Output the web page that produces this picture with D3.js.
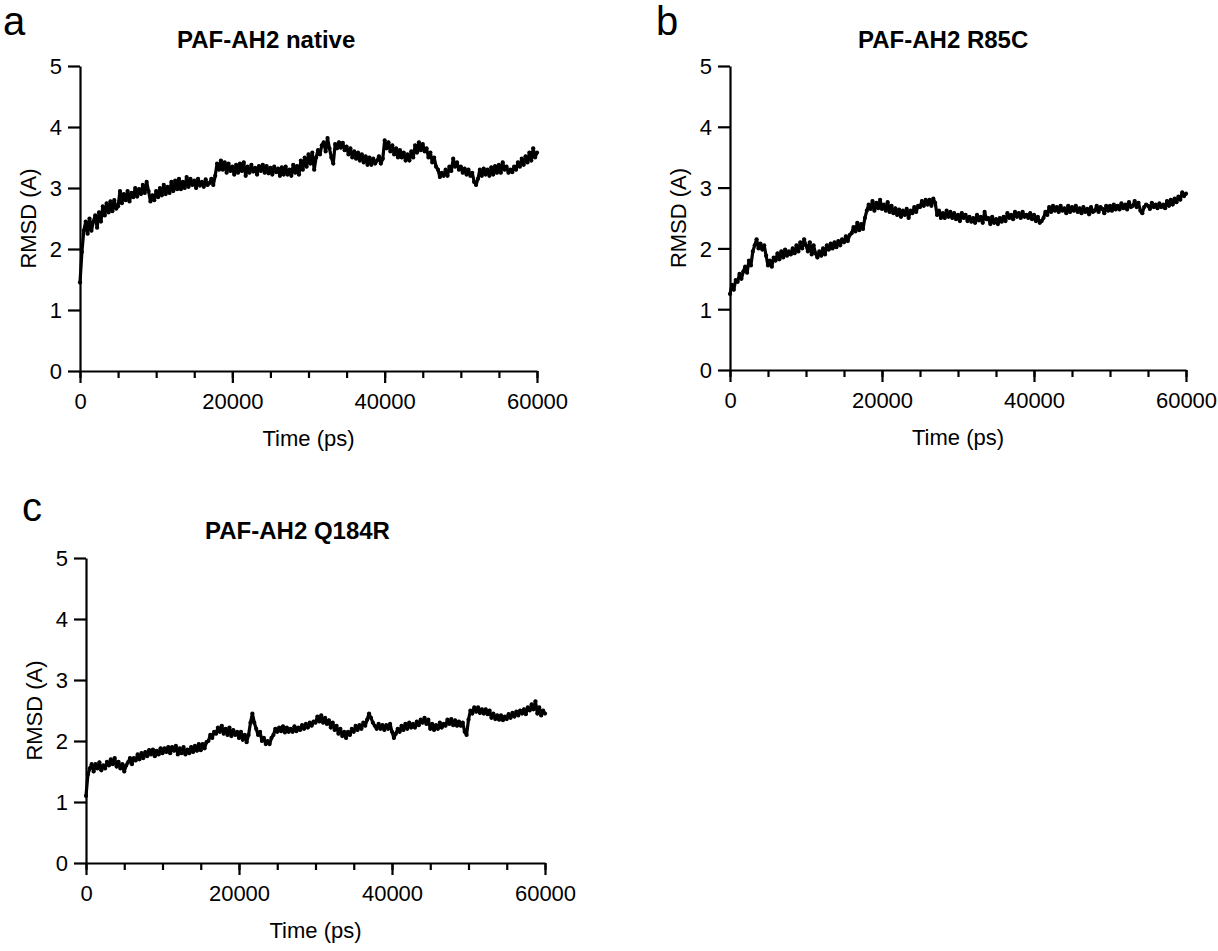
<!DOCTYPE html>
<html>
<head>
<meta charset="utf-8">
<script src="https://cdn.jsdelivr.net/npm/d3@7/dist/d3.min.js"></script>
<style>
  body { margin: 0; background: #fff; }
  svg text { font-family: "Liberation Sans", Arial, sans-serif; fill: #000; }
</style>
</head>
<body>
<script>
// time axis: one sample every 250 ps
var step_ps = 250;
var time_ps = d3.range(0, 60001, step_ps);

// RMSD values (A)
var rmsd_native = [
  1.45, 1.95, 2.3, 2.45, 2.25, 2.5, 2.3, 2.45, 2.55, 2.35, 2.6, 2.45,
  2.7, 2.55, 2.75, 2.6, 2.78, 2.62, 2.8, 2.66, 2.7, 2.95, 2.75, 2.9,
  2.8, 2.95, 2.78, 2.92, 2.85, 3.0, 2.86, 2.98, 2.9, 3.05, 2.92, 3.1,
  2.95, 2.78, 2.88, 2.8, 2.95, 2.85, 3.0, 2.88, 3.05, 2.9, 3.02, 2.92,
  3.1, 2.95, 3.12, 2.98, 3.15, 2.98, 3.1, 3.0, 3.18, 3.02, 3.15, 3.05,
  3.12, 3.0, 3.15, 3.04, 3.1, 3.02, 3.14, 3.05, 3.08, 3.15, 3.05, 3.2,
  3.4, 3.3, 3.45, 3.3, 3.42, 3.25, 3.4, 3.28, 3.35, 3.22, 3.38, 3.25,
  3.4, 3.28, 3.42, 3.2, 3.35, 3.25, 3.38, 3.27, 3.33, 3.22, 3.36, 3.28,
  3.38, 3.25, 3.36, 3.24, 3.33, 3.22, 3.35, 3.26, 3.32, 3.2, 3.34, 3.22,
  3.35, 3.22, 3.3, 3.2, 3.38, 3.25, 3.36, 3.22, 3.45, 3.3, 3.5, 3.35,
  3.55, 3.4, 3.58, 3.3, 3.5, 3.62, 3.55, 3.7, 3.75, 3.6, 3.82, 3.65,
  3.5, 3.4, 3.72, 3.65, 3.75, 3.66, 3.74, 3.62, 3.68, 3.55, 3.65, 3.5,
  3.6, 3.48, 3.58, 3.45, 3.55, 3.42, 3.52, 3.38, 3.5, 3.38, 3.48, 3.4,
  3.45, 3.52, 3.4, 3.48, 3.78, 3.65, 3.75, 3.6, 3.7, 3.55, 3.65, 3.5,
  3.62, 3.5, 3.58, 3.45, 3.55, 3.45, 3.6, 3.5, 3.7, 3.58, 3.75, 3.62,
  3.72, 3.6, 3.65, 3.5, 3.58, 3.42, 3.5, 3.35, 3.3, 3.18, 3.25, 3.2,
  3.3, 3.2, 3.35, 3.28, 3.48, 3.35, 3.42, 3.3, 3.35, 3.25, 3.32, 3.22,
  3.3, 3.2, 3.25, 3.1, 3.05, 3.15, 3.3, 3.2, 3.32, 3.22, 3.3, 3.2,
  3.34, 3.22, 3.36, 3.25, 3.38, 3.25, 3.42, 3.3, 3.35, 3.25, 3.3, 3.26,
  3.35, 3.3, 3.42, 3.35, 3.48, 3.38, 3.52, 3.42, 3.58, 3.45, 3.65, 3.5,
  3.58
];

var rmsd_r85c = [
  1.25, 1.4, 1.32, 1.48, 1.45, 1.58, 1.5, 1.62, 1.7, 1.6, 1.8, 1.72,
  1.95, 2.05, 2.15, 2.0, 2.08, 1.98, 2.05, 1.88, 1.72, 1.8, 1.7, 1.85,
  1.8, 1.92, 1.82, 1.95, 1.85, 1.98, 1.88, 1.95, 1.9, 2.0, 1.92, 2.05,
  1.95, 2.1, 2.0, 2.15, 2.05, 1.95, 2.1, 1.9, 2.05, 1.92, 1.85, 1.95,
  1.88, 2.0, 1.9, 2.05, 1.98, 2.08, 2.0, 2.1, 2.02, 2.12, 2.05, 2.15,
  2.1, 2.2, 2.12, 2.22, 2.25, 2.35, 2.28, 2.42, 2.3, 2.4, 2.32, 2.5,
  2.62, 2.72, 2.65, 2.78, 2.62, 2.75, 2.66, 2.8, 2.65, 2.72, 2.62, 2.76,
  2.6, 2.7, 2.58, 2.66, 2.55, 2.64, 2.52, 2.62, 2.55, 2.65, 2.5, 2.62,
  2.58, 2.68, 2.6, 2.7, 2.68, 2.78, 2.7, 2.8, 2.72, 2.8, 2.7, 2.82,
  2.75, 2.55, 2.62, 2.5, 2.58, 2.5, 2.62, 2.52, 2.6, 2.5, 2.58, 2.48,
  2.55, 2.45, 2.58, 2.5, 2.55, 2.45, 2.52, 2.44, 2.5, 2.42, 2.55, 2.46,
  2.52, 2.42, 2.6, 2.48, 2.5, 2.4, 2.52, 2.42, 2.48, 2.4, 2.5, 2.44,
  2.52, 2.45, 2.58, 2.5, 2.55, 2.48, 2.6, 2.52, 2.58, 2.5, 2.6, 2.52,
  2.55, 2.5, 2.58, 2.48, 2.55, 2.45, 2.52, 2.42, 2.45, 2.5, 2.6, 2.55,
  2.68, 2.6, 2.7, 2.62, 2.68, 2.6, 2.7, 2.62, 2.66, 2.58, 2.7, 2.6,
  2.68, 2.62, 2.7, 2.6, 2.66, 2.58, 2.68, 2.6, 2.65, 2.56, 2.68, 2.6,
  2.62, 2.7, 2.6, 2.68, 2.65, 2.58, 2.7, 2.62, 2.7, 2.62, 2.72, 2.64,
  2.7, 2.64, 2.74, 2.66, 2.72, 2.64, 2.76, 2.68, 2.7, 2.78, 2.68, 2.75,
  2.62, 2.58, 2.68, 2.72, 2.7, 2.65, 2.75, 2.68, 2.72, 2.66, 2.74, 2.68,
  2.72, 2.66, 2.78, 2.7, 2.8, 2.72, 2.82, 2.76, 2.85, 2.8, 2.92, 2.86,
  2.9
];

var rmsd_q184r = [
  1.1, 1.45, 1.55, 1.62, 1.5, 1.62, 1.55, 1.65, 1.52, 1.6, 1.55, 1.66,
  1.6, 1.7, 1.62, 1.72, 1.58, 1.66, 1.55, 1.62, 1.5, 1.6, 1.65, 1.72,
  1.62, 1.72, 1.68, 1.78, 1.7, 1.8, 1.72, 1.82, 1.75, 1.85, 1.78, 1.86,
  1.75, 1.84, 1.78, 1.88, 1.8, 1.88, 1.82, 1.9, 1.8, 1.9, 1.84, 1.92,
  1.78, 1.88, 1.8, 1.9, 1.78, 1.86, 1.8, 1.9, 1.82, 1.92, 1.84, 1.95,
  1.85, 1.95, 1.88, 1.98, 2.0, 2.1, 2.05, 2.15, 2.12, 2.22, 2.15, 2.25,
  2.12, 2.2, 2.1, 2.22, 2.08, 2.18, 2.1, 2.15, 2.05, 2.15, 2.02, 2.1,
  1.98, 2.1, 2.3, 2.45, 2.3, 2.2, 2.1, 2.15, 2.0, 2.05, 1.95, 2.0,
  1.95, 2.05, 2.1, 2.2, 2.15, 2.22, 2.16, 2.24, 2.14, 2.22, 2.15, 2.2,
  2.15, 2.24, 2.16, 2.22, 2.18, 2.26, 2.2, 2.28, 2.22, 2.3, 2.25, 2.32,
  2.3, 2.4, 2.32, 2.42, 2.3, 2.38, 2.28, 2.34, 2.22, 2.3, 2.18, 2.25,
  2.12, 2.2, 2.08, 2.15, 2.05, 2.15, 2.1, 2.2, 2.15, 2.25, 2.18, 2.26,
  2.2, 2.3, 2.25, 2.35, 2.45, 2.38, 2.3, 2.25, 2.2, 2.28, 2.2, 2.26,
  2.18, 2.26, 2.2, 2.28, 2.15, 2.05, 2.12, 2.2, 2.15, 2.25, 2.18, 2.28,
  2.2, 2.3, 2.22, 2.28, 2.22, 2.32, 2.26, 2.35, 2.3, 2.38, 2.28, 2.35,
  2.2, 2.28, 2.18, 2.26, 2.2, 2.3, 2.22, 2.28, 2.25, 2.35, 2.28, 2.36,
  2.26, 2.34, 2.25, 2.32, 2.25, 2.3, 2.15, 2.1, 2.35, 2.5, 2.45, 2.55,
  2.48, 2.55, 2.46, 2.52, 2.45, 2.52, 2.44, 2.5, 2.38, 2.45, 2.36, 2.42,
  2.35, 2.42, 2.34, 2.4, 2.36, 2.44, 2.38, 2.46, 2.4, 2.48, 2.42, 2.5,
  2.45, 2.52, 2.44, 2.55, 2.5, 2.6, 2.52, 2.65, 2.45, 2.55, 2.42, 2.5,
  2.45
];

var y_ticks = [0, 1, 2, 3, 4, 5];
var x_major = [0, 20000, 40000, 60000];
var x_minor = d3.range(0, 60001, 5000);

var panels = [
  {letter: "a", title: "PAF-AH2 native", values: rmsd_native,
   left: 80, right: 537, top: 66, bottom: 371,
   letterX: 3, letterY: 35, titleX: 177, titleY: 48, ylabX: 36},
  {letter: "b", title: "PAF-AH2 R85C", values: rmsd_r85c,
   left: 730, right: 1186, top: 66, bottom: 370,
   letterX: 656, letterY: 35, titleX: 858, titleY: 48, ylabX: 686},
  {letter: "c", title: "PAF-AH2 Q184R", values: rmsd_q184r,
   left: 86, right: 545, top: 558, bottom: 863,
   letterX: 22, letterY: 521, titleX: 205, titleY: 539, ylabX: 42}
];

var svg = d3.select("body").append("svg")
    .attr("width", 1218)
    .attr("height", 951);

panels.forEach(function(p){

  var x = d3.scaleLinear().domain([0, 60000]).range([p.left, p.right]);
  var y = d3.scaleLinear().domain([0, 5]).range([p.bottom, p.top]);

  var g = svg.append("g");

  // panel letter and title
  g.append("text")
    .attr("x", p.letterX).attr("y", p.letterY)
    .style("font-size", "40px")
    .text(p.letter);

  g.append("text")
    .attr("x", p.titleX).attr("y", p.titleY)
    .style("font-size", "24px")
    .style("font-weight", "bold")
    .text(p.title);

  // data: dense trace of dots
  var data = time_ps.map(function(t, i){ return {t: t, v: p.values[i]}; });

  g.append("path")
    .datum(data)
    .attr("fill", "none")
    .attr("stroke", "#000")
    .attr("stroke-width", 3.2)
    .attr("stroke-linejoin", "round")
    .attr("d", d3.line()
      .x(function(d){ return x(d.t); })
      .y(function(d){ return y(d.v); }));

  g.selectAll(".dot")
    .data(data)
    .enter().append("circle")
      .attr("class", "dot")
      .attr("cx", function(d){ return x(d.t); })
      .attr("cy", function(d){ return y(d.v); })
      .attr("r", 2.1)
      .attr("fill", "#000");

  // minor x ticks
  var minor = g.append("g")
    .attr("transform", "translate(0," + p.bottom + ")")
    .call(d3.axisBottom(x).tickValues(x_minor).tickSize(7).tickFormat(""));
  minor.select(".domain").remove();

  // major x axis
  var xa = g.append("g")
    .attr("transform", "translate(0," + p.bottom + ")")
    .call(d3.axisBottom(x).tickValues(x_major).tickSize(12).tickSizeOuter(0)
      .tickFormat(d3.format("d")));
  xa.selectAll("text").attr("y", 38).attr("dy", 0).style("font-size", "22px");

  // y axis
  var ya = g.append("g")
    .attr("transform", "translate(" + p.left + ",0)")
    .call(d3.axisLeft(y).tickValues(y_ticks).tickSize(12).tickSizeOuter(0)
      .tickPadding(6).tickFormat(d3.format("d")));
  ya.selectAll("text").attr("dy", "0.36em").style("font-size", "22px");

  svg.selectAll(".domain, .tick line")
    .attr("stroke", "#000")
    .attr("stroke-width", 2.2);

  // axis titles
  g.append("text")
    .attr("x", (p.left + p.right) / 2)
    .attr("y", p.bottom + 75)
    .attr("text-anchor", "middle")
    .style("font-size", "22px")
    .text("Time (ps)");

  g.append("text")
    .attr("transform", "translate(" + p.ylabX + "," + (p.top + p.bottom) / 2 + ") rotate(-90)")
    .attr("text-anchor", "middle")
    .style("font-size", "22px")
    .text("RMSD (A)");
});
</script>
</body>
</html>
